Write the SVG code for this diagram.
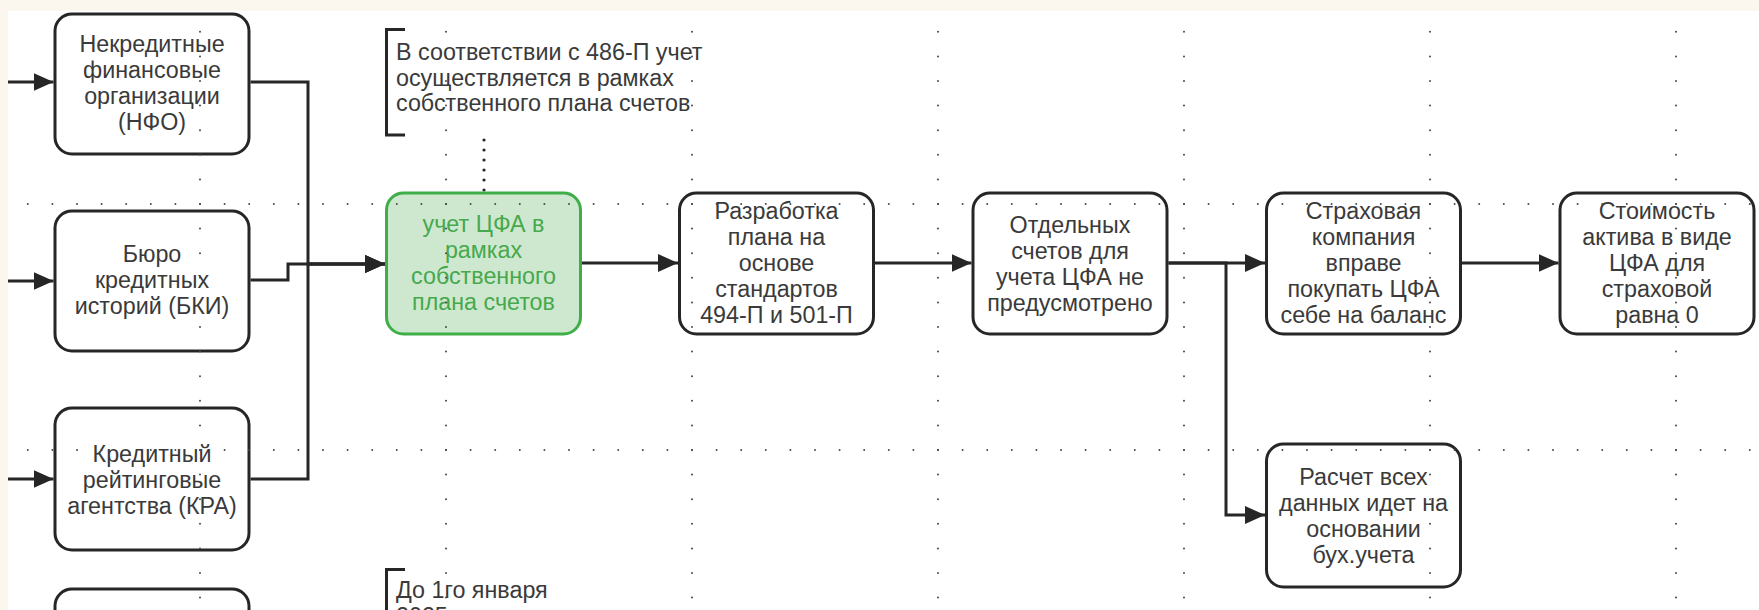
<svg xmlns="http://www.w3.org/2000/svg" width="1759" height="610" viewBox="0 0 1759 610">
<defs>
<style>
.node{fill:#ffffff;stroke:#262626;stroke-width:3}
.green{fill:#cde8cf;stroke:#3fae49;stroke-width:3}
.t{font-family:"Liberation Sans",Arial,sans-serif;font-size:23.3px;fill:#3a3a3a;text-anchor:middle}
.tg{font-family:"Liberation Sans",Arial,sans-serif;font-size:23.3px;fill:#47a84d;text-anchor:middle}
.ann{font-family:"Liberation Sans",Arial,sans-serif;font-size:23.3px;fill:#3a3a3a}
.conn{fill:none;stroke:#262626;stroke-width:3}
.br{fill:none;stroke:#262626;stroke-width:3}
.grid{stroke:#4a4a4a;stroke-width:2;stroke-linecap:round;stroke-dasharray:0 24.6;fill:none}
</style>
<marker id="arr" viewBox="0 0 20 18" markerWidth="20" markerHeight="18" refX="20" refY="9" orient="auto" markerUnits="userSpaceOnUse">
<path d="M0,0 L20,9 L0,18 z" fill="#262626"/>
</marker>
</defs>
<rect x="0" y="0" width="1759" height="610" fill="#ffffff"/>
<rect x="0" y="0" width="1759" height="10.7" fill="#fbf7ef"/>
<rect x="0" y="0" width="8" height="610" fill="#fbf7ef"/>

<g id="connectors">
<path class="conn" d="M8,82 L53.5,82" marker-end="url(#arr)"/>
<path class="conn" d="M8,281 L53.5,281" marker-end="url(#arr)"/>
<path class="conn" d="M8,479 L53.5,479" marker-end="url(#arr)"/>
<path class="conn" d="M250.5,82 L308,82 L308,264 L385,264" marker-end="url(#arr)"/>
<path class="conn" d="M250.5,280 L288,280 L288,264 L385,264" marker-end="url(#arr)"/>
<path class="conn" d="M250.5,479 L308,479 L308,264 L385,264" marker-end="url(#arr)"/>
<path class="conn" d="M582,263 L678,263" marker-end="url(#arr)"/>
<path class="conn" d="M875,263 L971.5,263" marker-end="url(#arr)"/>
<path class="conn" d="M1168.5,263 L1265,263" marker-end="url(#arr)"/>
<path class="conn" d="M1168.5,263 L1226,263 L1226,515 L1265,515" marker-end="url(#arr)"/>
<path class="conn" d="M1462,263 L1558.5,263" marker-end="url(#arr)"/>
<path d="M484,140 L484,191" fill="none" stroke="#262626" stroke-width="3.2" stroke-linecap="round" stroke-dasharray="0 10"/>
</g>

<g id="node-nfo">
<rect class="node" x="55" y="14" width="194" height="140" rx="17"/>
<text class="t" x="152" y="52"><tspan x="152">Некредитные</tspan><tspan x="152" dy="25.9">финансовые</tspan><tspan x="152" dy="25.9">организации</tspan><tspan x="152" dy="25.9">(НФО)</tspan></text>
</g>
<g id="node-bki">
<rect class="node" x="55" y="211" width="194" height="140" rx="17"/>
<text class="t" x="152" y="262"><tspan x="152">Бюро</tspan><tspan x="152" dy="25.9">кредитных</tspan><tspan x="152" dy="25.9">историй (БКИ)</tspan></text>
</g>
<g id="node-kra">
<rect class="node" x="55" y="408" width="194" height="142" rx="17"/>
<text class="t" x="152" y="462"><tspan x="152">Кредитный</tspan><tspan x="152" dy="25.9">рейтинговые</tspan><tspan x="152" dy="25.9">агентства (КРА)</tspan></text>
</g>
<g id="node-bottom">
<rect class="node" x="55" y="589" width="194" height="140" rx="17"/>
</g>
<g id="node-green">
<rect class="green" x="386.5" y="193" width="194" height="141" rx="17"/>
<text class="tg" x="483.5" y="232"><tspan x="483.5">учет ЦФА в</tspan><tspan x="483.5" dy="25.9">рамках</tspan><tspan x="483.5" dy="25.9">собственного</tspan><tspan x="483.5" dy="25.9">плана счетов</tspan></text>
</g>
<g id="node-razrabotka">
<rect class="node" x="679.5" y="193" width="194" height="141" rx="17"/>
<text class="t" x="776.5" y="219"><tspan x="776.5">Разработка</tspan><tspan x="776.5" dy="25.9">плана на</tspan><tspan x="776.5" dy="25.9">основе</tspan><tspan x="776.5" dy="25.9">стандартов</tspan><tspan x="776.5" dy="25.9">494-П и 501-П</tspan></text>
</g>
<g id="node-otdelnyh">
<rect class="node" x="973" y="193" width="194" height="141" rx="17"/>
<text class="t" x="1070" y="233"><tspan x="1070">Отдельных</tspan><tspan x="1070" dy="25.9">счетов для</tspan><tspan x="1070" dy="25.9">учета ЦФА не</tspan><tspan x="1070" dy="25.9">предусмотрено</tspan></text>
</g>
<g id="node-strahovaya">
<rect class="node" x="1266.5" y="193" width="194" height="141" rx="17"/>
<text class="t" x="1363.5" y="219"><tspan x="1363.5">Страховая</tspan><tspan x="1363.5" dy="25.9">компания</tspan><tspan x="1363.5" dy="25.9">вправе</tspan><tspan x="1363.5" dy="25.9">покупать ЦФА</tspan><tspan x="1363.5" dy="25.9">себе на баланс</tspan></text>
</g>
<g id="node-stoimost">
<rect class="node" x="1560" y="193" width="194" height="141" rx="17"/>
<text class="t" x="1657" y="219"><tspan x="1657">Стоимость</tspan><tspan x="1657" dy="25.9">актива в виде</tspan><tspan x="1657" dy="25.9">ЦФА для</tspan><tspan x="1657" dy="25.9">страховой</tspan><tspan x="1657" dy="25.9">равна 0</tspan></text>
</g>
<g id="node-raschet">
<rect class="node" x="1266.5" y="444" width="194" height="143" rx="17"/>
<text class="t" x="1363.5" y="485"><tspan x="1363.5">Расчет всех</tspan><tspan x="1363.5" dy="25.9">данных идет на</tspan><tspan x="1363.5" dy="25.9">основании</tspan><tspan x="1363.5" dy="25.9">бух.учета</tspan></text>
</g>
<g id="note-486">
<path class="br" d="M405,29.5 L386.5,29.5 L386.5,135 L405,135"/>
<text class="ann" x="396" y="60"><tspan x="396">В соответствии с 486-П учет</tspan><tspan x="396" dy="25.6">осуществляется в рамках</tspan><tspan x="396" dy="25.6">собственного плана счетов</tspan></text>
</g>
<g id="note-2025">
<path class="br" d="M405,569.5 L386.5,569.5 L386.5,620"/>
<text class="ann" x="396" y="598"><tspan x="396">До 1го января</tspan><tspan x="396" dy="25.6">2025</tspan></text>
</g>

<g id="grid">
<path class="grid" d="M200,31.8 V610 M446,31.8 V610 M692,31.8 V610 M938,31.8 V610 M1184,31.8 V610 M1430,31.8 V610 M1676,31.8 V610"/>
<path class="grid" d="M27.8,204 H1759 M27.8,450 H1759"/>
</g>
</svg>
